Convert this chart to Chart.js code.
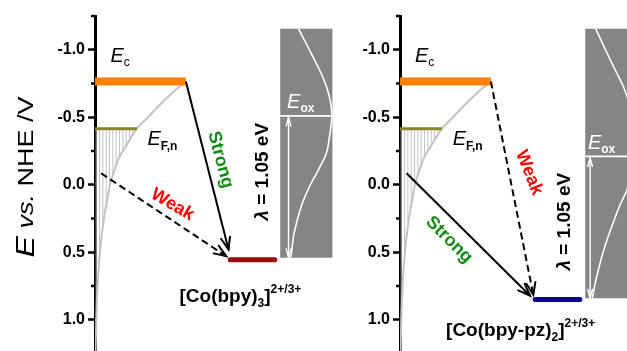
<!DOCTYPE html>
<html>
<head>
<meta charset="utf-8">
<script src="https://cdn.jsdelivr.net/npm/chart.js@4.4.1/dist/chart.umd.min.js"></script>
<style>
  html, body { margin: 0; padding: 0; background: #fff; overflow: hidden; }
  #wrap { position: relative; width: 627px; height: 351px; overflow: hidden; }
  canvas { position: absolute; top: 0; }
  #c1 { left: 0; }
  #c2 { left: 340px; }
</style>
</head>
<body>
<div id="wrap">
  <canvas id="c1" width="340" height="370"></canvas>
  <canvas id="c2" width="305" height="370"></canvas>
</div>
<script>
// ---- Potential axis (V vs. NHE) ----
const majorTicks = [-1.0, -0.5, 0.0, 0.5, 1.0];
const minorTicks = [-1.25, -0.75, -0.25, 0.25, 0.75, 1.25];

// ---- TiO2 levels ----
const conductionBand = -0.765;   // E_c
const quasiFermi = -0.415;       // E_F,n
const trapLevel = -0.085;        // deep trap states feeding the lower arrow

// Exponential trap distribution below E_c (potential / V, density / arb. units)
const dosPotential = [-0.765, -0.70, -0.60, -0.50, -0.415, -0.30, -0.20, -0.10, 0.00, 0.10, 0.20, 0.35, 0.50, 0.70, 0.90, 1.10, 1.25];
const dosDensity   = [37.1, 32.7, 26.9, 21.6, 17.1, 13.1, 9.8, 7.8, 6.1, 5.1, 4.1, 2.9, 2.0, 1.2, 0.7, 0.4, 0.2];

// ---- Cobalt redox mediators ----
const mediatorNames = ['[Co(bpy)', '[Co(bpy-pz)'];
const mediatorSubscripts = ['3', '2'];
const mediatorCharge = '2+/3+';
const redoxPotential = [0.555, 0.85];     // V vs. NHE
const oxidizedPeak = [-0.51, -0.21];      // E_ox, V vs. NHE
const reorgEnergy = 1.05;                 // lambda / eV

// Distribution of oxidized acceptor states (potential / V, density / arb. units)
const oxPotential1 = [-1.155, -1.0, -0.852, -0.726, -0.615, -0.511, -0.407, -0.237, -0.111, 0.015, 0.133, 0.259, 0.385, 0.504, 0.54];
const oxDensity1   = [7.5, 11.9, 16.0, 18.9, 20.5, 21.1, 20.5, 18.9, 15.6, 11.9, 9.1, 7.0, 5.4, 4.6, 4.2];
const oxPotential2 = [-1.155, -0.926, -0.726, -0.652, -0.52, -0.415, -0.31, -0.207, -0.09, 0.04, 0.15, 0.281, 0.43, 0.578, 0.72, 0.84];
const oxDensity2   = [4.3, 10.2, 15.6, 17.1, 19.6, 20.5, 21.1, 20.5, 18.9, 17.0, 14.2, 11.4, 8.5, 6.1, 4.2, 2.9];

const rateLabels = { strong: 'Strong', weak: 'Weak' };

// ---- drawing setup ----
const FONT = '"Liberation Sans", Arial, sans-serif';
Chart.defaults.font.family = FONT;

const BOX_LEFT = 75.6, BOX_RIGHT = 96.9, BOX_TOP = -1.155;
const BAND_END = 37.1, FERMI_END = 17.1;
const BAR_X = [55.2, 73.4];

function pts(xs, ys) { return xs.map((x, i) => ({ x, y: ys[i] })); }

function hatchPattern(ctx, phase) {
  const c = document.createElement('canvas');
  c.width = 10; c.height = 10;
  const g = c.getContext('2d');
  g.fillStyle = '#c2c2c2';
  for (let k = 0; k < 3; k++) g.fillRect((phase + k * 10 / 3) % 10, 0, 1, 10);
  return ctx.createPattern(c, 'repeat');
}

function rich(ctx, parts, x, y, align) {
  let w = 0;
  parts.forEach(p => { ctx.font = p.font; p.w = ctx.measureText(p.t).width; w += p.w; });
  let cx = align === 'center' ? x - w / 2 : x;
  parts.forEach(p => { ctx.font = p.font; ctx.fillText(p.t, cx, y + (p.dy || 0)); cx += p.w; });
}

function arrowHead(ctx, from, to, len, half, color, width) {
  const a = Math.atan2(to.y - from.y, to.x - from.x);
  ctx.save();
  ctx.setLineDash([]);
  ctx.strokeStyle = color; ctx.lineWidth = width;
  ctx.lineCap = 'round'; ctx.lineJoin = 'miter';
  ctx.beginPath();
  ctx.moveTo(to.x - len * Math.cos(a - half), to.y - len * Math.sin(a - half));
  ctx.lineTo(to.x, to.y);
  ctx.lineTo(to.x - len * Math.cos(a + half), to.y - len * Math.sin(a + half));
  ctx.stroke();
  ctx.restore();
}

const panels = [
  {
    canvas: 'c1', axisWidth: 95, title: true, idx: 0, barColor: '#9b0a0a', hatchPhase: 9,
    oxPotential: oxPotential1, oxDensity: oxDensity1, lambdaArrowX: 79.0,
    arrows: [
      { from: [BAND_END, conductionBand], to: [54.5, 0.48], dashed: false, kind: 'strong', at: [51.2, -0.185], angle: 75 },
      { from: [2.5, trapLevel], to: [53.6, 0.53], dashed: true, kind: 'weak', at: [31.6, 0.148], angle: 30 }
    ],
    ecAt: [6.3, -0.911], efAt: [21.4, -0.296], lambdaAt: [68.4, -0.096], eoxX: 78.4, coAt: [34.5, 0.867]
  },
  {
    canvas: 'c2', axisWidth: 60, title: false, idx: 1, barColor: '#0a0a80', hatchPhase: 4,
    oxPotential: oxPotential2, oxDensity: oxDensity2, lambdaArrowX: 77.6,
    arrows: [
      { from: [BAND_END, conductionBand], to: [54.4, 0.815], dashed: true, kind: 'weak', at: [52.7, -0.089], angle: 68 },
      { from: [2.7, trapLevel], to: [53.1, 0.822], dashed: false, kind: 'strong', at: [20.0, 0.407], angle: 45 }
    ],
    ecAt: [6.1, -0.911], efAt: [21.5, -0.296], lambdaAt: [67.3, 0.274], eoxX: 76.7, coAt: [18.8, 1.12]
  }
];

function buildPanel(p) {
  const canvas = document.getElementById(p.canvas);
  const ctx = canvas.getContext('2d');
  const eox = oxidizedPeak[p.idx];
  const boxBottom = eox + reorgEnergy;
  const ds = [];
  const add = (data, extra) => ds.push(Object.assign({
    data, showLine: true, pointRadius: 0, pointHoverRadius: 0, fill: false, tension: 0,
    borderColor: '#000', borderWidth: 2
  }, extra));

  // acceptor-state panel
  add(pts([BOX_LEFT, BOX_RIGHT, BOX_RIGHT, BOX_LEFT], [BOX_TOP, BOX_TOP, boxBottom, boxBottom]),
      { fill: 'shape', backgroundColor: '#858585', borderColor: 'rgba(0,0,0,0)', borderWidth: 1 });
  add(pts(p.oxDensity.map(d => BOX_LEFT + d), p.oxPotential),
      { borderColor: '#ffffff', borderWidth: 1.6, tension: 0.3 });
  add(pts([BOX_LEFT, BOX_RIGHT], [eox, eox]), { borderColor: '#ffffff', borderWidth: 1.6 });
  add(pts([p.lambdaArrowX, p.lambdaArrowX], [eox + 0.01, boxBottom]),
      { borderColor: '#ffffff', borderWidth: 1.4, head: 'both' });

  // filled (occupied) trap states between E_F,n and the band edge tail
  const hatchX = [], hatchY = [];
  dosPotential.forEach((e, i) => { if (e >= quasiFermi) { hatchX.push(dosDensity[i]); hatchY.push(e); } });
  hatchX.push(0, 0); hatchY.push(1.25, quasiFermi);
  add(pts(hatchX, hatchY), { fill: 'shape', backgroundColor: hatchPattern(ctx, p.hatchPhase), borderColor: 'rgba(0,0,0,0)', borderWidth: 1 });

  // trap distribution curve
  add(pts(dosDensity, dosPotential), { borderColor: '#c3c3c3', borderWidth: 2, tension: 0.3 });

  // E_F,n and E_c
  add(pts([0, FERMI_END], [quasiFermi, quasiFermi]), { borderColor: '#86862a', borderWidth: 3, borderCapStyle: 'butt' });
  add(pts([0, BAND_END], [conductionBand, conductionBand]), { borderColor: '#ff8000', borderWidth: 8, borderCapStyle: 'butt' });

  // recombination pathways
  p.arrows.forEach(a => add([{ x: a.from[0], y: a.from[1] }, { x: a.to[0], y: a.to[1] }],
      { borderColor: '#000', borderWidth: 2, borderDash: a.dashed ? [7, 4] : [], head: 'end' }));

  // redox level
  const r = redoxPotential[p.idx];
  add(pts(BAR_X, [r, r]), { borderColor: p.barColor, borderWidth: 5, borderCapStyle: 'round' });

  ds.forEach((d, i) => { d.order = ds.length - i; });

  const decor = {
    id: 'decor',
    afterDatasetsDraw(chart) {
      const c = chart.ctx;
      chart.data.datasets.forEach((d, i) => {
        if (!d.head) return;
        const pts = chart.getDatasetMeta(i).data;
        const a = { x: pts[0].x, y: pts[0].y }, b = { x: pts[pts.length - 1].x, y: pts[pts.length - 1].y };
        if (d.borderColor === '#ffffff') {
          arrowHead(c, a, b, 9, 0.26, '#fff', 1.4);
          arrowHead(c, b, a, 9, 0.26, '#fff', 1.4);
        } else {
          arrowHead(c, a, b, 13, 0.36, '#000', 2);
        }
      });
    },
    afterDraw(chart) {
      const c = chart.ctx, xs = chart.scales.x, ys = chart.scales.y;
      const X = v => xs.getPixelForValue(v), Y = v => ys.getPixelForValue(v);
      c.save();
      // minor ticks
      c.strokeStyle = '#000'; c.lineWidth = 2.5;
      minorTicks.forEach(v => {
        const y = Y(v);
        c.beginPath(); c.moveTo(chart.chartArea.left - 4, y); c.lineTo(chart.chartArea.left, y); c.stroke();
      });
      c.textAlign = 'left'; c.textBaseline = 'alphabetic';
      c.fillStyle = '#000';
      rich(c, [{ t: 'E', font: 'italic 20px ' + FONT }, { t: 'c', font: '12px ' + FONT, dy: 4 }], X(p.ecAt[0]), Y(p.ecAt[1]));
      rich(c, [{ t: 'E', font: 'italic 20px ' + FONT }, { t: 'F,n', font: 'bold 12px ' + FONT, dy: 5 }], X(p.efAt[0]), Y(p.efAt[1]));
      c.fillStyle = '#fff';
      rich(c, [{ t: 'E', font: 'italic 20px ' + FONT }, { t: 'ox', font: 'bold 12px ' + FONT, dy: 4 }], X(p.eoxX), Y(eox - 0.055));
      // mediator label
      c.fillStyle = '#000';
      rich(c, [
        { t: mediatorNames[p.idx], font: 'bold 19px ' + FONT },
        { t: mediatorSubscripts[p.idx], font: 'bold 12px ' + FONT, dy: 5 },
        { t: ']', font: 'bold 19px ' + FONT },
        { t: mediatorCharge, font: 'bold 12px ' + FONT, dy: -9 }
      ], X(p.coAt[0]), Y(p.coAt[1]));
      // lambda
      c.save();
      c.translate(X(p.lambdaAt[0]), Y(p.lambdaAt[1]));
      c.rotate(-Math.PI / 2);
      c.textBaseline = 'middle';
      rich(c, [{ t: '\u03bb', font: 'italic bold 19px ' + FONT }, { t: ' = ' + reorgEnergy.toFixed(2) + ' eV', font: 'bold 19px ' + FONT }], 0, 0, 'center');
      c.restore();
      // pathway labels
      p.arrows.forEach(a => {
        c.save();
        c.translate(X(a.at[0]), Y(a.at[1]));
        c.rotate(a.angle * Math.PI / 180);
        c.textAlign = 'center'; c.textBaseline = 'middle';
        c.fillStyle = a.kind === 'strong' ? '#138a13' : '#ff0000';
        c.font = 'bold 18px ' + FONT;
        c.fillText(rateLabels[a.kind], 0, 0);
        c.restore();
      });
      // axis title
      if (p.title) {
        c.save();
        c.translate(27, 177);
        c.rotate(-Math.PI / 2);
        c.scale(1, 0.82);
        c.textBaseline = 'middle';
        c.fillStyle = '#000';
        rich(c, [
          { t: 'E', font: 'italic 32px ' + FONT },
          { t: ' vs.', font: 'italic 27px ' + FONT },
          { t: ' NHE /V', font: '27px ' + FONT }
        ], 0, 0, 'center');
        c.restore();
      }
      c.restore();
    }
  };

  new Chart(canvas, {
    type: 'scatter',
    data: { datasets: ds },
    options: {
      responsive: false,
      animation: false,
      events: [],
      layout: { padding: { top: 16, bottom: 16.5, left: 0, right: 0 } },
      plugins: { legend: { display: false }, tooltip: { enabled: false }, title: { display: false } },
      scales: {
        x: { type: 'linear', min: 0, max: 100, display: false },
        y: {
          type: 'linear', reverse: true, min: -1.25, max: 1.25, z: 1,
          afterFit: s => { s.width = p.axisWidth; },
          afterBuildTicks: s => { s.ticks = majorTicks.map(v => ({ value: v })); },
          grid: { drawOnChartArea: false, drawTicks: true, tickLength: 7, tickWidth: 2.5, tickColor: '#000' },
          border: { display: true, width: 3, color: '#000' },
          ticks: { color: '#000', padding: 3, font: { family: FONT, weight: 'bold', size: 16 },
                   callback: v => Number(v).toFixed(1) }
        }
      }
    },
    plugins: [decor]
  });
}

panels.forEach(buildPanel);
</script>
</body>
</html>
